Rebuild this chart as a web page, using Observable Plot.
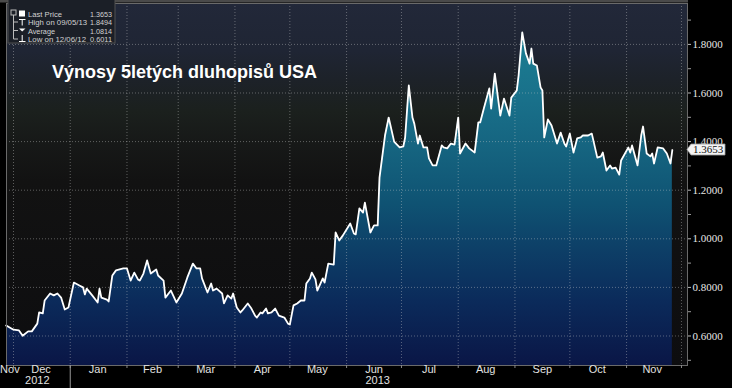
<!DOCTYPE html>
<html><head><meta charset="utf-8">
<script src="https://cdn.jsdelivr.net/npm/d3@7"></script>
<script src="https://cdn.jsdelivr.net/npm/@observablehq/plot@0.6"></script>
<style>
html,body{margin:0;padding:0;background:#000;}
#chart{width:732px;height:388px;overflow:hidden;}
</style></head><body><div id="chart"></div>
<script>
const dates = [
"2012-11-27","2012-12-01","2012-12-04","2012-12-06","2012-12-09","2012-12-11","2012-12-14","2012-12-15","2012-12-17","2012-12-18","2012-12-21","2012-12-23","2012-12-25","2012-12-27","2012-12-29","2012-12-31",
"2013-01-03","2013-01-06","2013-01-08","2013-01-09","2013-01-10","2013-01-13","2013-01-16","2013-01-17","2013-01-18","2013-01-21","2013-01-22","2013-01-24","2013-01-26","2013-01-30",
"2013-02-01","2013-02-03","2013-02-05","2013-02-07","2013-02-08","2013-02-10","2013-02-12","2013-02-14","2013-02-17","2013-02-18","2013-02-21","2013-02-22","2013-02-25","2013-02-28",
"2013-03-03","2013-03-06","2013-03-09","2013-03-11","2013-03-13","2013-03-14","2013-03-17","2013-03-19","2013-03-20","2013-03-22","2013-03-25","2013-03-26","2013-03-28","2013-03-30","2013-03-31",
"2013-04-02","2013-04-04","2013-04-05","2013-04-08","2013-04-10","2013-04-12","2013-04-13","2013-04-15","2013-04-16","2013-04-18","2013-04-19","2013-04-21","2013-04-23","2013-04-25","2013-04-28","2013-04-30",
"2013-05-01","2013-05-03","2013-05-05","2013-05-07","2013-05-09","2013-05-10","2013-05-12","2013-05-13","2013-05-15","2013-05-16","2013-05-19","2013-05-20","2013-05-22","2013-05-25","2013-05-26","2013-05-28","2013-05-30",
"2013-06-03","2013-06-05","2013-06-06","2013-06-08","2013-06-10","2013-06-11","2013-06-14","2013-06-16","2013-06-18","2013-06-19","2013-06-22","2013-06-24","2013-06-27","2013-06-28","2013-06-30",
"2013-07-02","2013-07-03","2013-07-05","2013-07-07","2013-07-08","2013-07-10","2013-07-11","2013-07-13","2013-07-15","2013-07-16","2013-07-18","2013-07-20","2013-07-23","2013-07-24","2013-07-26","2013-07-28","2013-07-30",
"2013-08-01","2013-08-02","2013-08-05","2013-08-07","2013-08-10","2013-08-12","2013-08-13","2013-08-15","2013-08-18","2013-08-19","2013-08-21","2013-08-24","2013-08-26","2013-08-29","2013-08-30",
"2013-09-02","2013-09-03","2013-09-05","2013-09-07","2013-09-09","2013-09-10","2013-09-11","2013-09-13","2013-09-15","2013-09-16","2013-09-17","2013-09-19","2013-09-21","2013-09-24","2013-09-26","2013-09-28","2013-09-29",
"2013-10-01","2013-10-03","2013-10-05","2013-10-07","2013-10-08","2013-10-11","2013-10-13","2013-10-16","2013-10-18","2013-10-19","2013-10-21","2013-10-23","2013-10-24","2013-10-26","2013-10-28","2013-10-29",
"2013-11-02","2013-11-03","2013-11-04","2013-11-07","2013-11-09","2013-11-10","2013-11-12","2013-11-14","2013-11-15","2013-11-16","2013-11-18","2013-11-21","2013-11-23","2013-11-25","2013-11-26"
];
const yields = [
0.643,0.626,0.623,0.6011,0.619,0.619,0.651,0.697,0.693,0.746,0.775,0.767,0.775,0.758,0.709,0.717,
0.820,0.808,0.800,0.771,0.795,0.767,0.738,0.795,0.758,0.750,0.742,0.849,0.870,0.878,
0.878,0.828,0.861,0.833,0.828,0.857,0.911,0.857,0.874,0.849,0.828,0.758,0.787,0.738,
0.775,0.841,0.898,0.878,0.878,0.837,0.779,0.816,0.787,0.795,0.775,0.734,0.767,0.754,0.775,
0.717,0.697,0.705,0.734,0.713,0.684,0.676,0.697,0.693,0.713,0.693,0.697,0.713,0.684,0.676,0.651,
0.647,0.726,0.734,0.746,0.746,0.816,0.837,0.861,0.833,0.787,0.837,0.820,0.898,0.894,1.026,0.993,1.014,
1.063,1.022,1.018,1.125,1.108,1.149,1.026,1.055,1.055,1.252,1.425,1.499,1.400,1.392,1.376,
1.380,1.417,1.631,1.499,1.474,1.392,1.425,1.376,1.376,1.331,1.302,1.302,1.384,1.376,1.372,1.392,1.388,
1.499,1.351,1.392,1.372,1.355,1.479,1.479,1.536,1.619,1.536,1.680,1.507,1.577,1.507,1.581,
1.610,1.672,1.8494,1.763,1.721,1.783,1.721,1.713,1.623,1.610,1.417,1.491,1.466,1.392,1.437,1.392,1.380,
1.433,1.355,1.413,1.417,1.425,1.425,1.433,1.334,1.339,1.355,1.281,1.302,1.289,1.293,1.264,1.322,
1.376,1.355,1.384,1.302,1.425,1.462,1.351,1.339,1.351,1.310,1.376,1.372,1.351,1.310,1.3653
];
const monthLabels = ["Nov","Dec","Jan","Feb","Mar","Apr","May","Jun","Jul","Aug","Sep","Oct","Nov"];
const monthLabelDates = ["2012-11-29","2012-12-16","2013-01-16","2013-02-15","2013-03-16","2013-04-16","2013-05-16","2013-06-16","2013-07-16","2013-08-16","2013-09-16","2013-10-16","2013-11-15"];
const monthStarts = ["2012-12-01","2013-01-01","2013-02-01","2013-03-01","2013-04-01","2013-05-01","2013-06-01","2013-07-01","2013-08-01","2013-09-01","2013-10-01","2013-11-01","2013-12-01"];
const yearLabels = ["2012","2013"];
const yearLabelDates = ["2012-12-14","2013-06-18"];
const yearBreak = ["2013-01-01"];
const yTicks = [0.6,0.8,1.0,1.2,1.4,1.6,1.8];
const yMinorTicks = [0.5,0.7,0.9,1.1,1.3,1.5,1.7,1.9];
const legendLabels = ["Last Price","High on 09/05/13","Average","Low on 12/06/12"];
const legendValues = ["1.3653","1.8494","1.0814","0.6011"];
const lastPrice = 1.3653;
const titleText = "Výnosy 5letých dluhopisů USA";

const parse = d3.utcParse("%Y-%m-%d");
const data = dates.map((d,i)=>({date: parse(d), v: yields[i]}));
const labelData = monthLabelDates.map((d,i)=>({date: parse(d), label: monthLabels[i]}));
const yearData = yearLabelDates.map((d,i)=>({date: parse(d), label: yearLabels[i]}));
const xDomain = [new Date(Date.UTC(2012,10,27,4)), new Date(Date.UTC(2013,11,4,7))];
const yDomain = [0.4786, 1.9683];
const gridStyle = {stroke:"#cfcfcf", strokeOpacity:0.4, strokeDasharray:"1,2", strokeWidth:1};

const plot = Plot.plot({
  width:732, height:388,
  marginLeft:6, marginRight:45, marginTop:3, marginBottom:23,
  style:{background:"#000", color:"#ddd", fontFamily:"Liberation Sans", overflow:"visible"},
  x:{type:"utc", domain:xDomain, axis:null, label:null},
  y:{domain:yDomain, axis:null, label:null},
  marks:[
    Plot.frame({fill:"url(#bgGrad)", stroke:null}),
    Plot.areaY(data, {x:"date", y:"v", fill:"url(#areaGrad)", clip:true}),
    Plot.gridY(yTicks, gridStyle),
    Plot.gridX(monthStarts.map(parse), gridStyle),
    Plot.lineY(data, {x:"date", y:"v", stroke:"#ffffff", strokeWidth:1.8, strokeLinejoin:"round"}),
    Plot.frame({stroke:"#6a6a6a", strokeWidth:1}),
    Plot.axisY(yTicks, {anchor:"right", label:null, tickSize:3, tickPadding:2, tickFormat:d=>d.toFixed(4), stroke:"#bbb", fill:"#e6e6e6", fontFamily:"Liberation Serif", fontSize:11}),
    Plot.axisY(yMinorTicks, {anchor:"right", label:null, tickSize:3, tickFormat:()=>"", stroke:"#999"}),
    Plot.axisX(monthStarts.map(parse), {anchor:"bottom", label:null, tickSize:3, tickFormat:()=>"", stroke:"#888"}),
    Plot.axisX(yearBreak.map(parse), {anchor:"bottom", label:null, tickSize:23, tickFormat:()=>"", stroke:"#999"}),
    Plot.text(labelData, {x:"date", text:"label", frameAnchor:"bottom", dy:7, fill:"#e2e2e2", fontSize:11, fontFamily:"Liberation Sans"}),
    Plot.text(yearData, {x:"date", text:"label", frameAnchor:"bottom", dy:18, fill:"#e2e2e2", fontSize:11, fontFamily:"Liberation Sans"})
  ]
});
document.getElementById("chart").appendChild(plot);

const svg = d3.select(plot);
const defs = svg.insert("defs", ":first-child");
function grad(id, stops){
  const g = defs.append("linearGradient").attr("id", id).attr("gradientUnits","userSpaceOnUse")
    .attr("x1",0).attr("x2",0).attr("y1",3).attr("y2",365);
  stops.forEach(([o,c])=>g.append("stop").attr("offset",o).attr("stop-color",c));
}
grad("bgGrad", [[0,"#222839"],[0.13,"#1f2534"],[0.21,"#1d2229"],[0.3,"#1b201d"],[0.38,"#171918"],[0.49,"#121212"],[1,"#0d0d0f"]]);
grad("areaGrad", [[0,"#1c8398"],[0.1,"#1b7d92"],[0.27,"#19708a"],[0.41,"#15637f"],[0.55,"#0f5373"],[0.68,"#0d3f67"],[0.82,"#0b2b5b"],[1,"#0a1646"]]);

// top toolbar strip
svg.append("rect").attr("x",0).attr("y",0).attr("width",688).attr("height",2.5).attr("fill","#4a4a4a");

// title
svg.append("text").attr("x",52).attr("y",78).attr("fill","#fff").attr("text-anchor","start")
  .attr("font-family","Liberation Sans").attr("font-weight","bold").attr("font-size",18)
  .text(titleText);

// legend box
const lg = svg.append("g").attr("font-family","Liberation Sans").attr("font-size",8).attr("fill","#d2d2d2").attr("text-anchor","start");
lg.append("rect").attr("x",8).attr("y",-2).attr("width",107).attr("height",45)
  .attr("fill","#1b1f27").attr("stroke","#505050");
const rowY = [16.8, 25.1, 33.5, 41.8];
const labelWidths = [34, 59, 27, 58];
legendLabels.forEach((t,i)=>{
  lg.append("text").attr("x",28).attr("y",rowY[i]).attr("text-anchor","start")
    .attr("textLength",labelWidths[i]).attr("lengthAdjust","spacingAndGlyphs").text(t);
  lg.append("text").attr("x",90).attr("y",rowY[i]).attr("text-anchor","start")
    .attr("textLength",22).attr("lengthAdjust","spacingAndGlyphs").text(legendValues[i]);
});
const ic = lg.append("g").attr("stroke","#bbb").attr("fill","none").attr("stroke-width",1);
ic.append("rect").attr("x",11).attr("y",10).attr("width",5).attr("height",5);
ic.append("path").attr("d","M13.5 15V39M13.5 22H18M13.5 30.5H18M13.5 39H18");
lg.append("rect").attr("x",19).attr("y",10.5).attr("width",6).attr("height",6).attr("fill","#fff");
ic.append("path").attr("d","M19 19.5H25.5M22.2 19.5V25.5").attr("stroke","#fff");
lg.append("path").attr("d","M19 28.5L25.5 28.5L22.2 31.5Z").attr("fill","#fff");
ic.append("path").attr("d","M22.2 35V41.5M19 41.5H25.5").attr("stroke","#fff");

// last price tag
const yScale = plot.scale("y");
const ty = yScale.apply(lastPrice);
svg.append("path")
  .attr("d",`M687 ${ty} L691 ${ty-5.5} L725 ${ty-5.5} L725 ${ty+5.5} L691 ${ty+5.5} Z`)
  .attr("fill","#f4f4f4").attr("stroke","#9a9a9a").attr("stroke-width",0.8);
svg.append("text").attr("x",708).attr("y",ty).attr("dy","0.36em").attr("text-anchor","middle")
  .attr("font-family","Liberation Serif").attr("font-size",11).attr("fill","#111")
  .text(lastPrice.toFixed(4));
</script></body></html>
